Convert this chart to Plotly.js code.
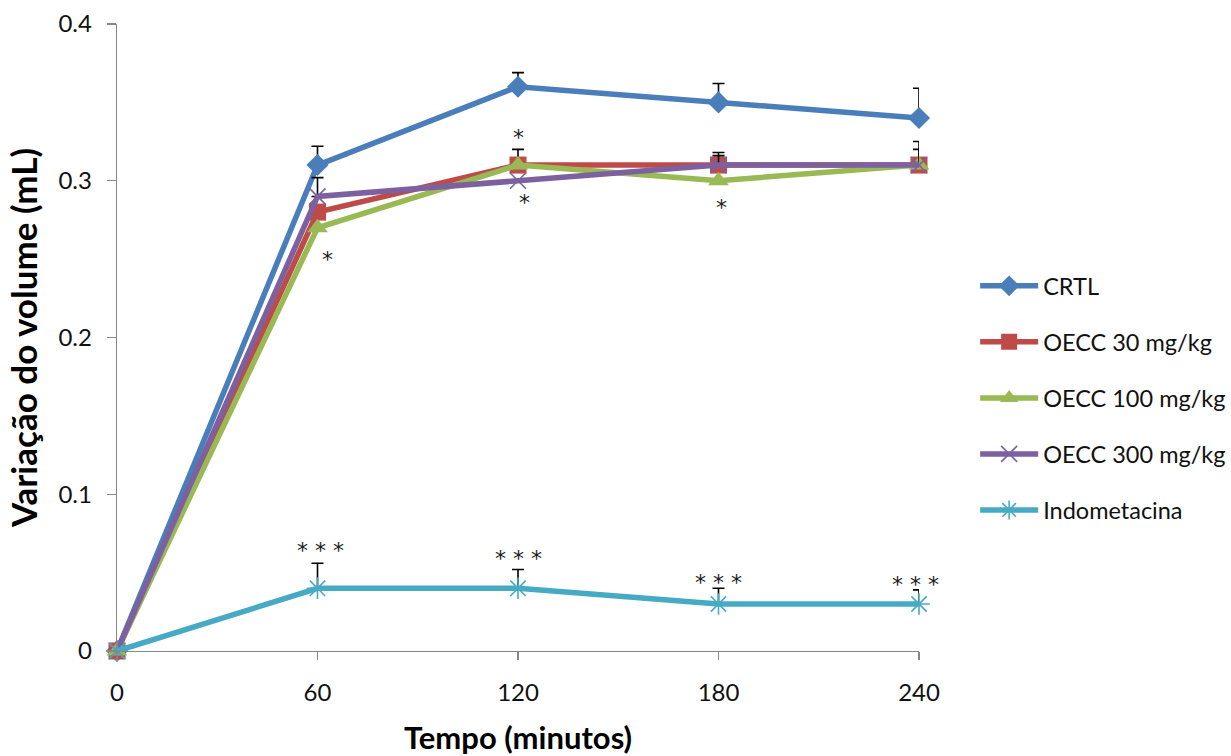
<!DOCTYPE html>
<html>
<head>
<meta charset="utf-8">
<script src="https://cdn.plot.ly/plotly-3.0.1.min.js"></script>
<style>html,body{margin:0;padding:0;background:#fff;overflow:hidden;width:1231px;height:756px;}#chart{width:1260px;height:756px;}</style>
</head>
<body>
<div id="chart"></div>
<script>
const tempo = [0, 60, 120, 180, 240];
const seriesNames = ["CRTL", "OECC 30 mg/kg", "OECC 100 mg/kg", "OECC 300 mg/kg", "Indometacina"];
const crtl   = [0, 0.31, 0.36, 0.35, 0.34];
const oecc30 = [0, 0.28, 0.31, 0.31, 0.31];
const oecc100 = [0, 0.27, 0.31, 0.30, 0.31];
const oecc300 = [0, 0.29, 0.30, 0.31, 0.31];
const indo   = [0, 0.04, 0.04, 0.03, 0.03];
// upper error bars (SEM); null = not visible
const errCrtl   = [null, 0.012, 0.009, 0.012, 0.019];
const err30     = [null, null, 0.010, 0.008, 0.015];
const err100    = [null, null, null, null, null];
const err300    = [null, 0.012, null, 0.006, 0.010];
const errIndo   = [null, 0.016, 0.012, 0.010, 0.009];
// significance marks
const sigX = [120, 63, 122, 181, 61, 120, 180, 239];
const sigY = [0.331, 0.253, 0.289, 0.286, 0.067, 0.0625, 0.0466, 0.0453];
const sigText = ["*", "*", "*", "*", "* * *", "* * *", "* * *", "* * *"];
const yTicks = [0, 0.1, 0.2, 0.3, 0.4];
const yTickText = ["0", "0.1", "0.2", "0.3", "0.4"];
const xTicks = [0, 60, 120, 180, 240];

const colors = ["#4A7EBB", "#BE4B48", "#98B954", "#7D60A0", "#46AAC5"];
const symbols = ["diamond", "square", "triangle-up", "x-thin-open", "asterisk-open"];
const sizes = [17, 17, 18, 16, 18];
const values = [crtl, oecc30, oecc100, oecc300, indo];
const errs = [errCrtl, err30, err100, err300, errIndo];

const traces = values.map((v, i) => {
  const e = errs[i];
  const hasErr = e.some(x => x !== null);
  return {
    x: tempo, y: v, name: seriesNames[i], type: "scatter", mode: "lines+markers",
    legendgroup: "g" + i,
    cliponaxis: false,
    line: {color: colors[i], width: 5.5},
    marker: {symbol: symbols[i], size: sizes[i], color: colors[i],
             line: {color: colors[i], width: (i >= 3 ? 1.6 : 0)}},
    error_y: hasErr ? {type: "data", symmetric: false, array: e.map(x => x === null ? NaN : x),
             arrayminus: e.map(() => 0), color: "#000", thickness: 1.6, width: 6, visible: true} : {visible: false}
  };
});

const annotations = sigX.map((x, i) => ({
  x: x, y: sigY[i], xref: "x", yref: "y", text: sigText[i], showarrow: false, yshift: -5,
  font: {family: "DejaVu Sans, sans-serif", size: 22, color: "#1a1a1a"}
}));

const layout = {
  width: 1260, height: 756,
  margin: {l: 117, r: 341, t: 24, b: 105},
  paper_bgcolor: "#fff", plot_bgcolor: "#fff",
  font: {family: "Lato, sans-serif", size: 24, color: "#111"},
  showlegend: true,
  legend: {x: 1.07, xanchor: "left", y: 0.4035, yanchor: "middle",
           font: {family: "Lato, sans-serif", size: 23.5, color: "#111"},
           traceorder: "grouped", tracegroupgap: 22.5, itemwidth: 58,
           bgcolor: "rgba(0,0,0,0)", borderwidth: 0},
  xaxis: {range: [0, 240], tickvals: xTicks, ticktext: xTicks.map(String),
          showline: true, linecolor: "#868686", linewidth: 1.3, showgrid: false, zeroline: false,
          ticks: "outside", ticklen: 8, tickcolor: "#868686", tickwidth: 1.3,
          tickfont: {family: "Lato, sans-serif", size: 24, color: "#111"}, ticklabelstandoff: 12,
          title: {text: "Tempo (minutos)", font: {family: "Lato, sans-serif", size: 31, color: "#000", weight: "bold"}, standoff: 25}},
  yaxis: {range: [0, 0.4], tickvals: yTicks, ticktext: yTickText,
          showline: true, linecolor: "#868686", linewidth: 1.3, showgrid: false, zeroline: false,
          ticks: "outside", ticklen: 9, tickcolor: "#868686", tickwidth: 1.3,
          tickfont: {family: "Lato, sans-serif", size: 24, color: "#111"}, ticklabelstandoff: 10,
          title: {text: "Variação do volume (mL)", font: {family: "Lato, sans-serif", size: 35, color: "#000", weight: "bold"}, standoff: 10}},
  annotations: annotations
};

Plotly.newPlot("chart", traces, layout, {displayModeBar: false, staticPlot: true});
</script>
</body>
</html>
